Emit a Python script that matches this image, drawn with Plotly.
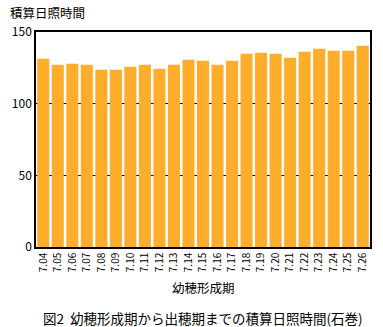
import plotly.graph_objects as go

categories = ["7.04","7.05","7.06","7.07","7.08","7.09","7.10","7.11","7.12","7.13","7.14","7.15",
              "7.16","7.17","7.18","7.19","7.20","7.21","7.22","7.23","7.24","7.25","7.26"]
values = [131.3,127.1,127.9,127.1,123.6,123.6,125.8,127.1,124.3,127.1,130.6,129.9,
          127.1,129.9,134.8,135.5,134.8,132.0,136.2,138.3,136.9,136.9,140.4]
y_ticks = [0, 50, 100, 150]

font_family = "Noto Sans CJK JP, DejaVu Sans, sans-serif"

fig = go.Figure(go.Bar(x=categories, y=values, marker=dict(color="#FFAD2A", line=dict(width=0))))

fig.update_layout(
    width=383, height=327,
    margin=dict(l=36, r=13, t=32, b=80),
    paper_bgcolor="white", plot_bgcolor="white",
    bargap=0.17,
    showlegend=False,
    font=dict(family=font_family, size=12, color="black"),
    annotations=[
        dict(text="積算日照時間", xref="paper", yref="paper", x=-0.084, y=1.093,
             xanchor="left", yanchor="middle", showarrow=False, font=dict(size=12.5)),
        dict(text="幼穂形成期", xref="paper", yref="paper", x=0.5, y=-0.19,
             xanchor="center", yanchor="middle", showarrow=False, font=dict(size=12.5)),
        dict(text="図2  幼穂形成期から出穂期までの積算日照時間(石巻)", xref="paper", yref="paper",
             x=0.5, y=-0.33, xanchor="center", yanchor="middle", showarrow=False, font=dict(size=13.5)),
    ],
)
fig.update_xaxes(
    type="category", tickangle=-90, tickfont=dict(size=10),
    showline=True, linecolor="black", linewidth=1.5, mirror=True,
    ticks="", showgrid=False,
)
fig.update_yaxes(
    range=[0, 150], tickvals=y_ticks,
    showline=True, linecolor="black", linewidth=1.5, mirror=True,
    showgrid=True, gridcolor="black", gridwidth=1,
    ticks="", tickfont=dict(size=12), zeroline=False,
)
fig.write_html("out.html")
